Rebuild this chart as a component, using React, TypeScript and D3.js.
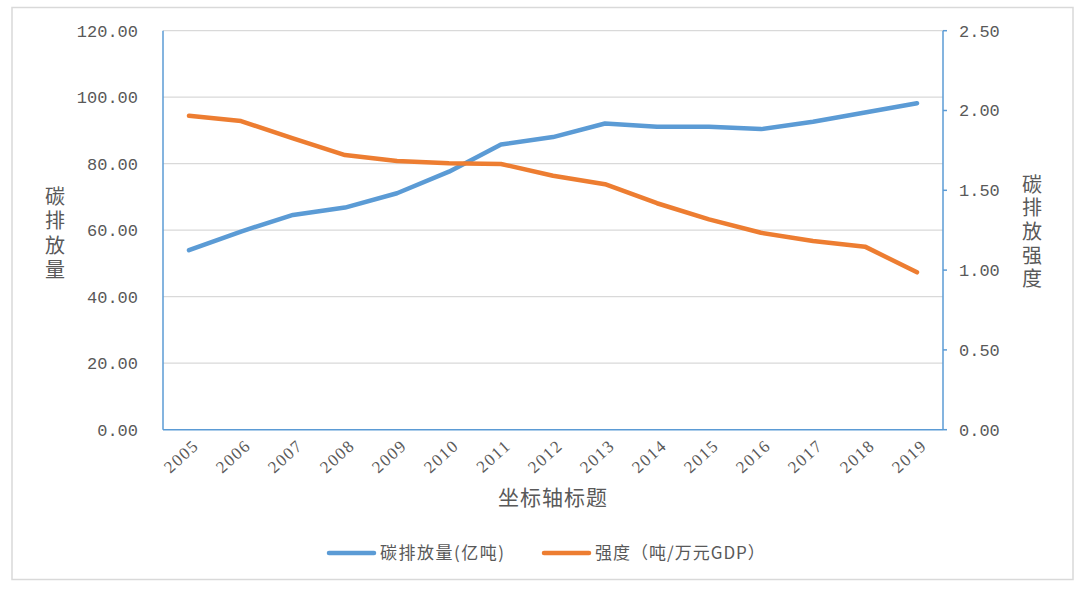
import React from "react";
import * as d3 from "d3";

const years = ["2005","2006","2007","2008","2009","2010","2011","2012","2013","2014","2015","2016","2017","2018","2019"];
const emissions = [54.0, 59.6, 64.6, 66.8, 71.1, 77.6, 85.8, 88.0, 92.1, 91.1, 91.1, 90.4, 92.6, 95.4, 98.2];
const intensity = [1.967, 1.934, 1.826, 1.721, 1.684, 1.669, 1.665, 1.591, 1.538, 1.419, 1.318, 1.234, 1.182, 1.147, 0.986];
const leftTicks = [0, 20, 40, 60, 80, 100, 120];
const rightTicks = [0, 0.5, 1.0, 1.5, 2.0, 2.5];
const seriesNames = ["碳排放量(亿吨)", "强度（吨/万元GDP）"];
const xTitle = "坐标轴标题";
const leftTitle = "碳排放量";
const rightTitle = "碳排放强度";

const W = 1080, H = 591;
const plot = { left: 163, right: 943, top: 30.7, bottom: 429.7 };
const BLUE = "#5b9bd5";
const ORANGE = "#ed7d31";
const GRAY = "#595959";
const NUM_FONT = "'Liberation Mono', 'DejaVu Sans Mono', monospace";
const CJK_FONT = "'Noto Sans CJK SC', sans-serif";

export default function App() {
  const x = d3.scaleBand().domain(years).range([plot.left, plot.right]);
  const yL = d3.scaleLinear().domain([0, 120]).range([plot.bottom, plot.top]);
  const yR = d3.scaleLinear().domain([0, 2.5]).range([plot.bottom, plot.top]);
  const cx = (d: string) => (x(d) as number) + x.bandwidth() / 2;
  const lineL = d3.line<number>().x((_, i) => cx(years[i])).y((v) => yL(v));
  const lineR = d3.line<number>().x((_, i) => cx(years[i])).y((v) => yR(v));
  const fmt = d3.format(".2f");

  return (
    <svg width={W} height={H} style={{ position: "absolute", left: 0, top: 0, background: "#fff" }}>
      <rect x={12} y={7.5} width={1061} height={572} fill="#fff" stroke="#d9d9d9" strokeWidth={1.5} />
      {leftTicks.filter((t) => t > 0).map((t) => (
        <line key={t} x1={plot.left} x2={plot.right} y1={yL(t)} y2={yL(t)} stroke="#d9d9d9" strokeWidth={1.3} />
      ))}
      {/* axes */}
      <line x1={plot.left} x2={plot.left} y1={plot.top} y2={plot.bottom} stroke={BLUE} strokeWidth={1.5} />
      <line x1={plot.left} x2={plot.right} y1={plot.bottom} y2={plot.bottom} stroke={BLUE} strokeWidth={1.5} />
      <line x1={plot.right} x2={plot.right} y1={plot.top} y2={plot.bottom} stroke={BLUE} strokeWidth={1.5} />
      {rightTicks.map((t) => (
        <line key={t} x1={plot.right} x2={plot.right + 4} y1={yR(t)} y2={yR(t)} stroke={BLUE} strokeWidth={1.5} />
      ))}
      {/* left tick labels */}
      {leftTicks.map((t) => (
        <text key={t} x={138} y={yL(t)} dy="0.35em" textAnchor="end" fontFamily={NUM_FONT} fontSize={17} fill={GRAY}>
          {fmt(t)}
        </text>
      ))}
      {/* right tick labels */}
      {rightTicks.map((t) => (
        <text key={t} x={959} y={yR(t)} dy="0.35em" textAnchor="start" fontFamily={NUM_FONT} fontSize={17} fill={GRAY}>
          {fmt(t)}
        </text>
      ))}
      {/* x labels */}
      {years.map((yv) => (
        <text key={yv} transform={`translate(${cx(yv) + 7},${plot.bottom + 13}) rotate(-42)`} textAnchor="end" dy="0.35em" fontFamily="'Liberation Serif', serif" fontSize={17} letterSpacing={1.5} fill={GRAY}>
          {yv}
        </text>
      ))}
      <text x={553} y={498} dy="0.35em" textAnchor="middle" fontFamily={CJK_FONT} fontSize={21} letterSpacing={1} fill={GRAY}>{xTitle}</text>
      <text x={55} y={186} style={{ writingMode: "vertical-rl", textOrientation: "upright" }} fontFamily={CJK_FONT} fontSize={20} letterSpacing={4.5} fill={GRAY}>
        {leftTitle}
      </text>
      <text x={1032} y={174} style={{ writingMode: "vertical-rl", textOrientation: "upright" }} fontFamily={CJK_FONT} fontSize={20} letterSpacing={3.7} fill={GRAY}>
        {rightTitle}
      </text>
      {/* series */}
      <path d={lineL(emissions) || ""} fill="none" stroke={BLUE} strokeWidth={4.5} strokeLinejoin="round" strokeLinecap="round" />
      <path d={lineR(intensity) || ""} fill="none" stroke={ORANGE} strokeWidth={4.5} strokeLinejoin="round" strokeLinecap="round" />
      {/* legend */}
      <line x1={329} x2={374} y1={553} y2={553} stroke={BLUE} strokeWidth={4.5} strokeLinecap="round" />
      <text x={380} y={553} dy="0.35em" fontFamily={CJK_FONT} fontSize={17} letterSpacing={1.5} fill={GRAY}>{seriesNames[0]}</text>
      <line x1={544} x2={589} y1={553} y2={553} stroke={ORANGE} strokeWidth={4.5} strokeLinecap="round" />
      <text x={595} y={553} dy="0.35em" fontFamily={CJK_FONT} fontSize={17} letterSpacing={1} fill={GRAY}>{seriesNames[1]}</text>
    </svg>
  );
}
